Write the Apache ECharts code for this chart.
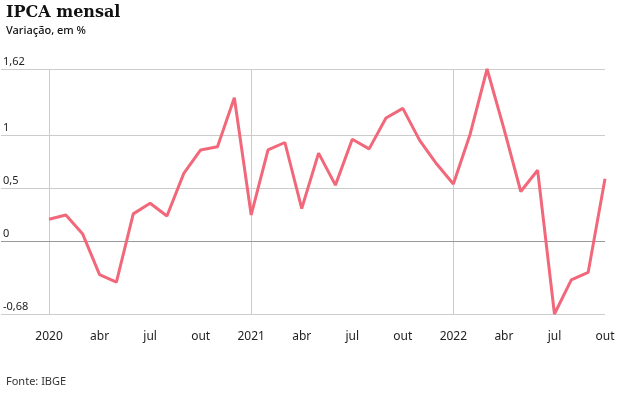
<!DOCTYPE html>
<html>
<head>
<meta charset="utf-8">
<script src="https://cdn.jsdelivr.net/npm/echarts@6/dist/echarts.min.js"></script>
<style>
  html, body { margin: 0; padding: 0; background: #fff; }
  #ipca { width: 629px; height: 397px; }
</style>
</head>
<body>
<div id="ipca"></div>
<script>
// IPCA mensal, jan/2020 - out/2022
var meses = ['jan', 'fev', 'mar', 'abr', 'mai', 'jun', 'jul', 'ago', 'set', 'out', 'nov', 'dez'];
var anos = ['2020', '2021', '2022'];
var ipca = [
    0.21, 0.25, 0.07, -0.31, -0.38, 0.26, 0.36, 0.24, 0.64, 0.86, 0.89, 1.35,
    0.25, 0.86, 0.93, 0.31, 0.83, 0.53, 0.96, 0.87, 1.16, 1.25, 0.95, 0.73,
    0.54, 1.01, 1.62, 1.06, 0.47, 0.67, -0.68, -0.36, -0.29, 0.59
];
var yTicks = [-0.68, 0, 0.5, 1, 1.62];
var xLabelIdx = [0, 3, 6, 9, 12, 15, 18, 21, 24, 27, 30, 33];
var yearIdx = [0, 12, 24];

function rotulo(i) {
    if (i % 12 === 0) return anos[i / 12];
    return meses[i % 12];
}

var dados = ipca.map(function (v, i) { return [i, v]; });

var myChart = echarts.init(document.getElementById('ipca'));
var fonte = '"Noto Sans", sans-serif';
var option = {
    animation: false,
    title: [
        {
            text: 'IPCA mensal',
            left: 1, top: 0,
            textStyle: { fontFamily: '"DejaVu Serif", serif', fontWeight: 'bold', fontSize: 16, color: '#111' }
        },
        {
            text: 'Variação, em %',
            left: 1, top: 20,
            textStyle: { fontFamily: fonte, fontWeight: 500, fontSize: 11, color: '#111' }
        },
        {
            text: 'Fonte: IBGE',
            left: 1, top: 371,
            textStyle: { fontFamily: fonte, fontWeight: 'normal', fontSize: 11, color: '#333' }
        }
    ],
    grid: { left: 0, right: 24, top: 69, bottom: 83, containLabel: false },
    xAxis: {
        type: 'value',
        min: -2.85,
        max: 33,
        axisLine: { show: false },
        axisTick: { show: false, customValues: yearIdx },
        splitLine: { show: true, lineStyle: { color: '#cccccc', width: 1 } },
        axisLabel: {
            customValues: xLabelIdx,
            formatter: function (v) { return rotulo(Math.round(v)); },
            margin: 17,
            fontFamily: fonte,
            fontSize: 12,
            color: '#222'
        }
    },
    yAxis: {
        type: 'value',
        min: -0.68,
        max: 1.62,
        axisLine: { show: false },
        axisTick: { show: false, customValues: yTicks },
        splitLine: { show: true, lineStyle: { color: '#cccccc', width: 1 } },
        axisLabel: {
            customValues: yTicks,
            inside: true,
            margin: 2,
            align: 'left',
            verticalAlign: 'bottom',
            padding: [0, 0, 2, 0],
            formatter: function (v) { return String(v).replace('.', ','); },
            fontFamily: fonte,
            fontSize: 11,
            color: '#222'
        }
    },
    series: [
        {
            name: 'IPCA',
            type: 'line',
            data: dados,
            symbol: 'none',
            lineStyle: { color: '#f2687b', width: 3 },
            markLine: {
                silent: true,
                symbol: 'none',
                label: { show: false },
                lineStyle: { color: '#999999', width: 1, type: 'solid' },
                data: [{ yAxis: 0 }],
                z: 1
            },
            z: 3
        }
    ]
};
myChart.setOption(option);
</script>
</body>
</html>
